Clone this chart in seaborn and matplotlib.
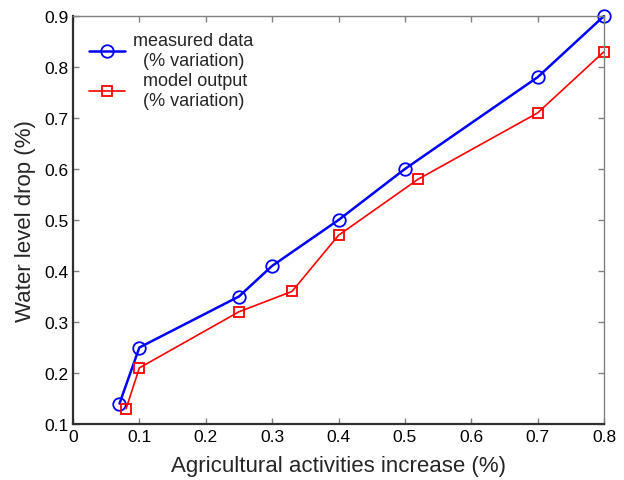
import matplotlib
matplotlib.use("Agg")
import matplotlib.pyplot as plt
import seaborn as sns
import pandas as pd

sns.set_theme(style="white")
plt.rcParams['font.family'] = ['Liberation Sans', 'DejaVu Sans']

measured_x = [0.07, 0.10, 0.25, 0.30, 0.40, 0.50, 0.70, 0.80]
measured_y = [0.14, 0.25, 0.35, 0.41, 0.50, 0.60, 0.78, 0.90]
model_x = [0.08, 0.10, 0.25, 0.33, 0.40, 0.52, 0.70, 0.80]
model_y = [0.13, 0.21, 0.32, 0.36, 0.47, 0.58, 0.71, 0.83]

fig = plt.figure(figsize=(6.24, 4.81), dpi=100)
ax = fig.add_axes([73/624, 1 - 425/481, (604-73)/624, (425-17)/481])

df1 = pd.DataFrame({"x": measured_x, "y": measured_y})
df2 = pd.DataFrame({"x": model_x, "y": model_y})
sns.lineplot(data=df1, x="x", y="y", ax=ax, color="blue", linewidth=1.8,
             marker="o", markersize=9, markerfacecolor="none",
             markeredgecolor="blue", markeredgewidth=1.3,
             label="measured data\n  (% variation)", sort=False, clip_on=False)
sns.lineplot(data=df2, x="x", y="y", ax=ax, color="red", linewidth=1.2,
             marker="s", markersize=7, markerfacecolor="none",
             markeredgecolor="red", markeredgewidth=1.3,
             label="  model output\n  (% variation)", sort=False, clip_on=False)

ax.set_xlim(0, 0.8)
ax.set_ylim(0.1, 0.9)
ax.set_xticks([0, 0.1, 0.2, 0.3, 0.4, 0.5, 0.6, 0.7, 0.8])
ax.set_xticklabels(["0", "0.1", "0.2", "0.3", "0.4", "0.5", "0.6", "0.7", "0.8"])
ax.set_yticks([0.1, 0.2, 0.3, 0.4, 0.5, 0.6, 0.7, 0.8, 0.9])
ax.set_yticklabels(["0.1", "0.2", "0.3", "0.4", "0.5", "0.6", "0.7", "0.8", "0.9"])
ax.tick_params(direction="in", length=4, width=1, colors="#808080",
               labelcolor="black", labelsize=12.5, top=True, right=True,
               bottom=True, left=True)
for s in ax.spines.values():
    s.set_color("#808080")
    s.set_linewidth(1.0)
ax.spines["left"].set_color("#303030")
ax.spines["bottom"].set_color("#303030")
ax.spines["left"].set_linewidth(1.6)
ax.spines["bottom"].set_linewidth(1.6)

ax.set_xlabel("Agricultural activities increase (%)", fontsize=16, labelpad=8)
ax.set_ylabel("Water level drop (%)", fontsize=16, labelpad=6)

leg = ax.legend(loc="upper left", frameon=False, fontsize=13,
                bbox_to_anchor=(0.0, 1.0), handlelength=2.0,
                labelspacing=0.2, handletextpad=0.4)

fig.savefig("out.png", dpi=100)
